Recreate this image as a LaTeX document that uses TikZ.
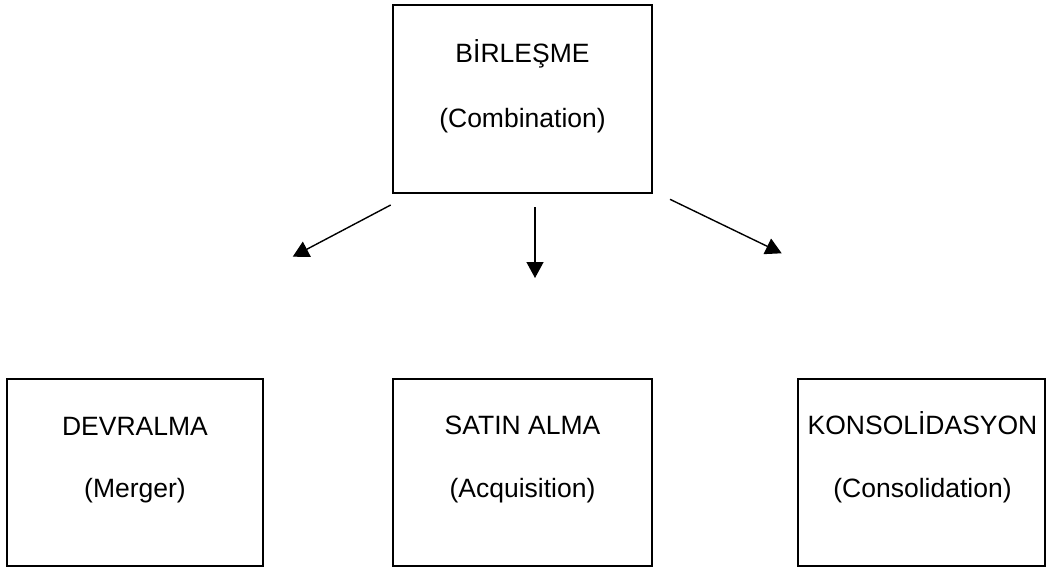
\documentclass[tikz,border=0pt]{standalone}
\usepackage{fontspec}
\setmainfont{Liberation Sans}
\usetikzlibrary{arrows.meta}
\begin{document}
\begin{tikzpicture}[x=1pt,y=-1pt,
  box/.style={draw=black,line width=2pt},
  lbl/.style={font=\fontsize{26.5}{30}\selectfont,anchor=base,inner sep=0pt},
  arr/.style={line width=1.4pt,-{Triangle[length=16pt,width=17pt]}}]
\useasboundingbox (0,0) rectangle (1046,570);
% boxes
\node[box,minimum width=259pt,minimum height=188pt,inner sep=0pt] (top) at (522.5,98.5) {};
\node[box,minimum width=256pt,minimum height=187pt,inner sep=0pt] (left) at (135,472.5) {};
\node[box,minimum width=259pt,minimum height=187pt,inner sep=0pt] (mid) at (522.5,472.5) {};
\node[box,minimum width=247pt,minimum height=187pt,inner sep=0pt] (right) at (921.5,472.5) {};
% texts
\node[lbl] (t1) at (522.5,62) {BİRLEŞME};
\node[lbl] (t2) at (522.5,127) {(Combination)};
\node[lbl] (l1) at (135,435) {DEVRALMA};
\node[lbl] (l2) at (135,497) {(Merger)};
\node[lbl] (m1) at (522.5,434) {SATIN ALMA};
\node[lbl] (m2) at (522.5,497) {(Acquisition)};
\node[lbl] (r1) at (922.5,434) {KONSOLİDASYON};
\node[lbl] (r2) at (922.5,497) {(Consolidation)};
% arrow end points
\coordinate (a1s) at (390.7,205);
\coordinate (a1e) at (292.7,256.7);
\coordinate (a2s) at (535,207);
\coordinate (a2e) at (535,278);
\coordinate (a3s) at (670,199.3);
\coordinate (a3e) at (781.7,253.3);
\draw[arr] (a1s) -- (a1e);
\draw[arr] (a2s) -- (a2e);
\draw[arr] (a3s) -- (a3e);
\end{tikzpicture}
\end{document}
